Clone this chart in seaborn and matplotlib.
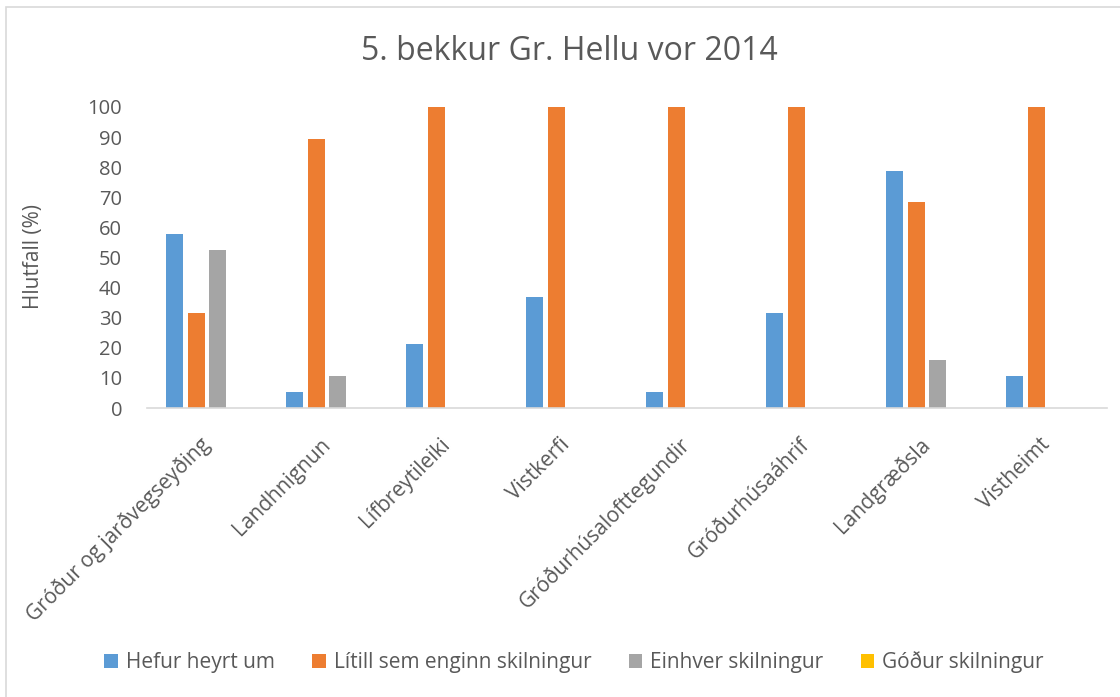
import numpy as np
import matplotlib.pyplot as plt
import pandas as pd
import seaborn as sns
from matplotlib.patches import Rectangle, Patch

categories = ['Gróður og jarðvegseyðing', 'Landhnignun', 'Lífbreytileiki', 'Vistkerfi',
              'Gróðurhúsalofttegundir', 'Gróðurhúsaáhrif', 'Landgræðsla', 'Vistheimt']
series = ['Hefur heyrt um', 'Lítill sem enginn skilningur', 'Einhver skilningur', 'Góður skilningur']
hefur = [57.9, 5.3, 21.1, 36.8, 5.3, 31.6, 78.9, 10.5]
litill = [31.6, 89.5, 100, 100, 100, 100, 68.4, 100]
einhver = [52.6, 10.5, 0, 0, 0, 0, 15.8, 0]
godur = [0, 0, 0, 0, 0, 0, 0, 0]
colors = ['#5B9BD5', '#ED7D31', '#A5A5A5', '#FFC000']

rows = []
for name, vals in zip(series, [hefur, litill, einhver, godur]):
    for c, v in zip(categories, vals):
        rows.append({'flokkur': c, 'svar': name, 'hlutfall': v})
df = pd.DataFrame(rows)

sns.set_style('white')
plt.rcParams['font.family'] = ['Open Sans', 'DejaVu Sans']
txt = '#595959'

fig = plt.figure(figsize=(11.2, 6.97), dpi=100)
ax = fig.add_axes([147/1120, 1-408/697, 960/1120, 301/697])

sns.barplot(data=df, x='flokkur', y='hlutfall', hue='svar', order=categories,
            hue_order=series, palette=colors, width=0.73, gap=0.22,
            linewidth=0, saturation=1, errorbar=None, legend=False, ax=ax)

ax.set_ylim(0, 100)
ax.set_xlim(-0.5, 7.5)
ax.set_yticks(range(0, 101, 10))
ax.set_xlabel('')
ax.set_ylabel('')
for s in ['top', 'right', 'left']:
    ax.spines[s].set_visible(False)
ax.spines['bottom'].set_color('#D9D9D9')
ax.spines['bottom'].set_linewidth(1.2)
ax.tick_params(axis='y', length=0, pad=18, labelsize=14.5, labelcolor=txt)
ax.tick_params(axis='x', length=0, pad=24, labelsize=15, labelcolor=txt)
plt.setp(ax.get_xticklabels(), rotation=45, ha='right', va='center', rotation_mode='anchor')

fig.text(569/1120, 1-52/697, '5. bekkur Gr. Hellu vor 2014', ha='center', va='center',
         fontsize=23, color=txt)
fig.text(33/1120, 1-257/697, 'Hlutfall (%)', ha='center', va='center', rotation=90,
         fontsize=15, color=txt)

handles = [Patch(facecolor=c, edgecolor='none') for c in colors]
fig.legend(handles, series, loc='center', bbox_to_anchor=(574/1120, 1-662/697), ncol=4,
           frameon=False, fontsize=15, labelcolor=txt, handlelength=0.65, handleheight=0.65,
           handletextpad=0.38, columnspacing=1.8)

fig.patches.append(Rectangle((6/1120, -0.1), 1.2, 1-7/697+0.1, transform=fig.transFigure,
                             fill=False, edgecolor='#D9D9D9', linewidth=1.2))

plt.savefig('out.png', dpi=100)
